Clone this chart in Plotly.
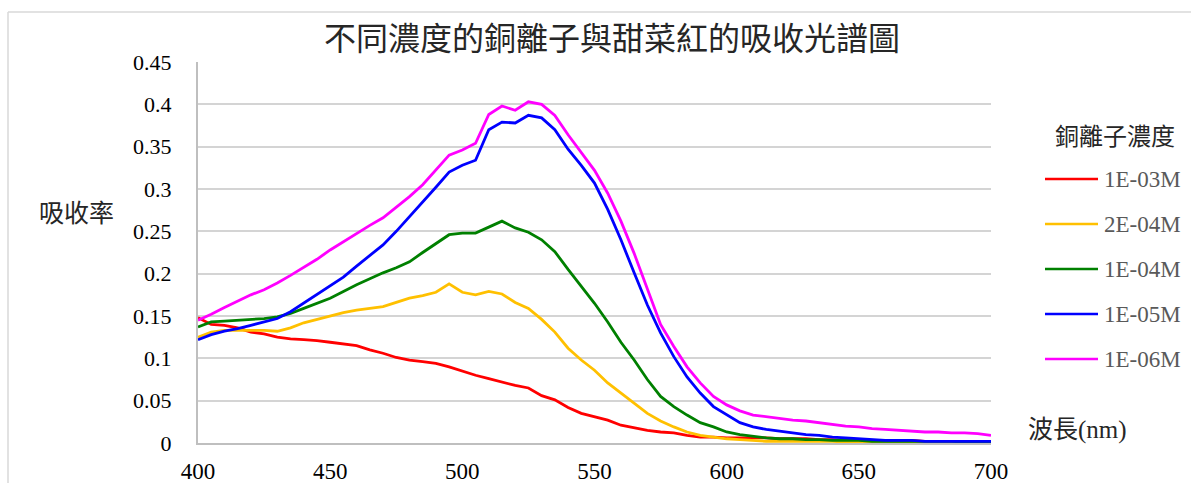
import plotly.graph_objects as go

# Wavelength grid (nm)
wavelength = list(range(400, 701, 5))

# Absorbance per Cu2+ concentration
abs_1e03 = [0.148, 0.140, 0.139, 0.136, 0.131, 0.129, 0.125, 0.123, 0.122, 0.121,
            0.119, 0.117, 0.115, 0.110, 0.106, 0.101, 0.098, 0.096, 0.094, 0.090,
            0.085, 0.080, 0.076, 0.072, 0.068, 0.065, 0.056, 0.051, 0.042, 0.035,
            0.031, 0.027, 0.021, 0.018, 0.015, 0.013, 0.012, 0.009, 0.007, 0.007,
            0.006, 0.006, 0.006, 0.006, 0.005, 0.005, 0.005, 0.004, 0.004, 0.003,
            0.003, 0.003, 0.003, 0.003, 0.003, 0.002, 0.002, 0.002, 0.002, 0.002, 0.002]
abs_2e04 = [0.125, 0.131, 0.133, 0.133, 0.133, 0.133, 0.132, 0.136, 0.142, 0.146,
            0.150, 0.154, 0.157, 0.159, 0.161, 0.166, 0.171, 0.174, 0.178, 0.188,
            0.178, 0.175, 0.179, 0.176, 0.166, 0.159, 0.146, 0.131, 0.112, 0.098,
            0.086, 0.071, 0.059, 0.047, 0.035, 0.026, 0.019, 0.013, 0.009, 0.007,
            0.005, 0.004, 0.003, 0.002, 0.002, 0.002, 0.002, 0.002, 0.002, 0.001,
            0.001, 0.001, 0.001, 0.001, 0.001, 0.001, 0.001, 0.001, 0.001, 0.001, 0.001]
abs_1e04 = [0.137, 0.143, 0.144, 0.145, 0.146, 0.147, 0.149, 0.153, 0.159, 0.165,
            0.171, 0.179, 0.187, 0.194, 0.201, 0.207, 0.214, 0.225, 0.236, 0.246,
            0.248, 0.248, 0.255, 0.262, 0.254, 0.249, 0.240, 0.226, 0.205, 0.185,
            0.165, 0.143, 0.119, 0.098, 0.075, 0.055, 0.043, 0.033, 0.024, 0.019,
            0.013, 0.010, 0.008, 0.006, 0.005, 0.005, 0.004, 0.004, 0.003, 0.003,
            0.003, 0.002, 0.002, 0.002, 0.002, 0.002, 0.002, 0.002, 0.001, 0.001, 0.001]
abs_1e05 = [0.122, 0.128, 0.132, 0.135, 0.139, 0.143, 0.147, 0.155, 0.165, 0.175,
            0.185, 0.196, 0.209, 0.221, 0.234, 0.250, 0.267, 0.285, 0.302, 0.320,
            0.328, 0.334, 0.370, 0.379, 0.378, 0.387, 0.384, 0.370, 0.347, 0.328,
            0.307, 0.276, 0.240, 0.201, 0.163, 0.130, 0.102, 0.078, 0.059, 0.043,
            0.033, 0.024, 0.019, 0.016, 0.014, 0.012, 0.010, 0.009, 0.007, 0.006,
            0.005, 0.004, 0.003, 0.003, 0.003, 0.002, 0.002, 0.002, 0.002, 0.002, 0.002]
abs_1e06 = [0.145, 0.152, 0.160, 0.168, 0.175, 0.181, 0.189, 0.198, 0.207, 0.217,
            0.228, 0.238, 0.248, 0.257, 0.266, 0.278, 0.291, 0.305, 0.322, 0.340,
            0.346, 0.354, 0.388, 0.398, 0.393, 0.403, 0.400, 0.387, 0.364, 0.343,
            0.322, 0.295, 0.262, 0.224, 0.182, 0.140, 0.114, 0.090, 0.071, 0.055,
            0.045, 0.038, 0.033, 0.031, 0.029, 0.027, 0.026, 0.024, 0.022, 0.020,
            0.019, 0.017, 0.016, 0.015, 0.014, 0.013, 0.013, 0.012, 0.012, 0.011, 0.009]

series_names = ["1E-03M", "2E-04M", "1E-04M", "1E-05M", "1E-06M"]
series_values = [abs_1e03, abs_2e04, abs_1e04, abs_1e05, abs_1e06]
series_colors = ["#FF0000", "#FFC000", "#008000", "#0000FF", "#FF00FF"]

y_tick_vals = [0, 0.05, 0.1, 0.15, 0.2, 0.25, 0.3, 0.35, 0.4, 0.45]
y_tick_text = ["0", "0.05", "0.1", "0.15", "0.2", "0.25", "0.3", "0.35", "0.4", "0.45"]
x_tick_vals = [400, 450, 500, 550, 600, 650, 700]

title_text = "不同濃度的銅離子與甜菜紅的吸收光譜圖"
y_title = "吸收率"
x_title = "波長(nm)"
legend_title = "銅離子濃度"

W, H = 1191, 483
L, R, T, B = 198, 991, 62, 443
FONT = "Liberation Serif, Times New Roman, Noto Sans CJK TC, serif"


def px(x):
    return (x - L) / (R - L)


def py(y):
    return (B - y) / (B - T)


fig = go.Figure()
for name, vals, col in zip(series_names, series_values, series_colors):
    fig.add_trace(go.Scatter(x=wavelength, y=vals, mode="lines", name=name,
                             line=dict(color=col, width=2.8), showlegend=False))

shapes = [
    # outer chart frame
    dict(type="line", xref="paper", yref="paper", x0=px(8), x1=px(W + 5),
         y0=py(12), y1=py(12), line=dict(color="#d9d9d9", width=1.5)),
    dict(type="line", xref="paper", yref="paper", x0=px(8), x1=px(8),
         y0=py(12), y1=py(H + 5), line=dict(color="#d9d9d9", width=1.5)),
]
annotations = [
    dict(text=title_text, xref="paper", yref="paper", x=px(612), y=py(39),
         showarrow=False, xanchor="center", yanchor="middle",
         font=dict(family=FONT, size=32, color="#262626")),
    dict(text=y_title, xref="paper", yref="paper", x=px(76), y=py(213),
         showarrow=False, xanchor="center", yanchor="middle",
         font=dict(family=FONT, size=25, color="#262626")),
    dict(text=x_title, xref="paper", yref="paper", x=px(1077), y=py(430),
         showarrow=False, xanchor="center", yanchor="middle",
         font=dict(family=FONT, size=25, color="#262626")),
    dict(text=legend_title, xref="paper", yref="paper", x=px(1115), y=py(137),
         showarrow=False, xanchor="center", yanchor="middle",
         font=dict(family=FONT, size=24, color="#262626")),
]
legend_y = [179, 224, 269, 314, 359]
for name, col, ly in zip(series_names, series_colors, legend_y):
    shapes.append(dict(type="line", xref="paper", yref="paper", x0=px(1045), x1=px(1098),
                       y0=py(ly), y1=py(ly), line=dict(color=col, width=2.6)))
    annotations.append(dict(text=name, xref="paper", yref="paper", x=px(1102), y=py(ly),
                            showarrow=False, xanchor="left", yanchor="middle",
                            font=dict(family=FONT, size=23, color="#595959")))

fig.update_layout(
    width=W, height=H,
    margin=dict(l=L, r=W - R, t=T, b=H - B, pad=0),
    paper_bgcolor="white", plot_bgcolor="white",
    font=dict(family=FONT, color="#000000"),
    showlegend=False,
    shapes=shapes,
    annotations=annotations,
    xaxis=dict(range=[400, 700], tickvals=x_tick_vals, showgrid=False, zeroline=False,
               showline=True, linecolor="#bfbfbf", linewidth=2, ticks="",
               automargin=False, ticklabelstandoff=6,
               tickfont=dict(family=FONT, size=23, color="#000000")),
    yaxis=dict(range=[0, 0.45], tickvals=y_tick_vals, ticktext=y_tick_text,
               showgrid=True, gridcolor="#d4d4d4", gridwidth=2, zeroline=False,
               showline=True, linecolor="#bfbfbf", linewidth=2, ticks="",
               automargin=False, ticklabelstandoff=20,
               tickfont=dict(family=FONT, size=22, color="#000000")),
)

fig.write_html("out.html")
